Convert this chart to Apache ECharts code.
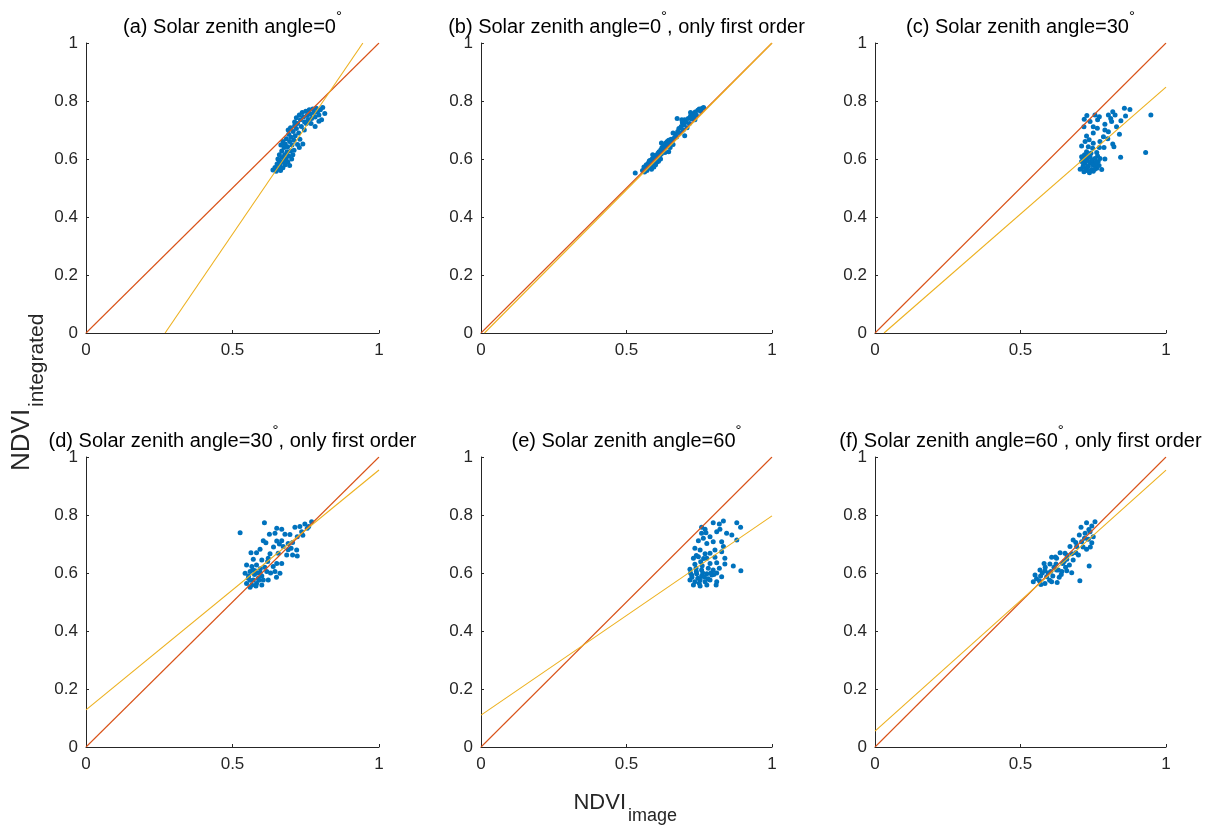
<!DOCTYPE html>
<html><head><meta charset="utf-8">
<script src="https://cdn.jsdelivr.net/npm/echarts@6/dist/echarts.min.js"></script>
<style>html,body{margin:0;padding:0;background:#fff}#c{width:1215px;height:825px}</style>
</head><body><div id="c"></div>
<script>
// ---------- data ----------
const panelTitleMain = [
  '(a) Solar zenith angle=0',
  '(b) Solar zenith angle=0',
  '(c) Solar zenith angle=30',
  '(d) Solar zenith angle=30',
  '(e) Solar zenith angle=60',
  '(f) Solar zenith angle=60'
];
const panelTitleTail = ['', ', only first order', '', ', only first order', '', ', only first order'];
const xTickLabels = ['0', '0.5', '1'];
const yTickLabels = ['0', '0.2', '0.4', '0.6', '0.8', '1'];
const xAxisName = ['NDVI', 'image'];
const yAxisName = ['NDVI', 'integrated'];

const pointsA = [[0.638,0.562],[0.645,0.571],[0.649,0.558],[0.652,0.583],[0.656,0.566],[0.659,0.595],[0.662,0.575],[0.664,0.560],[0.667,0.588],[0.670,0.605],[0.672,0.570],[0.675,0.592],[0.678,0.615],[0.680,0.580],[0.683,0.600],[0.686,0.625],[0.689,0.590],[0.692,0.610],[0.695,0.578],[0.698,0.628],[0.702,0.600],[0.706,0.615],[0.710,0.630],[0.660,0.615],[0.668,0.628],[0.676,0.640],[0.655,0.600],
[0.665,0.648],[0.672,0.660],[0.680,0.652],[0.684,0.670],[0.688,0.642],[0.692,0.685],[0.695,0.660],[0.700,0.675],[0.703,0.648],[0.707,0.695],[0.710,0.665],[0.714,0.680],[0.718,0.705],[0.722,0.650],[0.726,0.690],[0.730,0.668],[0.735,0.712],[0.740,0.652],[0.745,0.700],[0.698,0.708],[0.712,0.715],[0.690,0.700],[0.728,0.640],
[0.712,0.728],[0.718,0.742],[0.722,0.722],[0.728,0.752],[0.732,0.735],[0.738,0.760],[0.742,0.745],[0.746,0.728],[0.750,0.765],[0.755,0.750],[0.758,0.735],[0.762,0.770],[0.766,0.755],[0.770,0.740],[0.774,0.772],[0.778,0.760],[0.782,0.745],[0.786,0.775],[0.790,0.762],[0.795,0.752],[0.800,0.770],[0.804,0.735],[0.808,0.778],[0.815,0.757],[0.782,0.712],[0.768,0.722],[0.795,0.730],[0.752,0.722]];

const pointsB = [[0.530,0.552],[0.555,0.560],[0.560,0.572],[0.565,0.565],[0.568,0.580],[0.572,0.570],[0.575,0.585],[0.578,0.575],[0.580,0.595],[0.583,0.580],[0.585,0.570],[0.588,0.600],[0.590,0.588],[0.592,0.578],[0.595,0.605],[0.598,0.592],[0.600,0.612],[0.602,0.600],[0.605,0.590],[0.608,0.620],[0.610,0.606],[0.612,0.625],[0.615,0.612],[0.618,0.632],[0.620,0.618],[0.622,0.640],[0.625,0.628],[0.628,0.648],[0.630,0.635],[0.632,0.622],[0.635,0.655],[0.638,0.642],[0.640,0.660],[0.643,0.650],[0.645,0.665],[0.648,0.656],[0.650,0.640],[0.653,0.668],[0.656,0.660],[0.660,0.650],[0.664,0.672],[0.668,0.685],[0.672,0.676],[0.676,0.695],[0.680,0.705],[0.684,0.690],[0.688,0.712],[0.692,0.725],[0.695,0.700],[0.698,0.718],[0.700,0.735],[0.704,0.728],[0.708,0.708],[0.712,0.740],[0.716,0.722],[0.720,0.748],[0.724,0.738],[0.728,0.755],[0.732,0.745],[0.736,0.762],[0.740,0.752],[0.745,0.768],[0.750,0.772],[0.755,0.765],[0.760,0.775],[0.765,0.778],[0.570,0.560],[0.586,0.565],[0.594,0.572],[0.610,0.592],[0.600,0.580],[0.578,0.592],[0.562,0.555],[0.617,0.600],[0.660,0.668],[0.690,0.735],[0.674,0.740],[0.660,0.690],[0.700,0.680],[0.720,0.760],[0.620,0.655],[0.645,0.625],[0.590,0.615],[0.735,0.735]];

const pointsC = [[0.719,0.737],[0.756,0.752],[0.771,0.746],[0.802,0.752],[0.817,0.763],[0.825,0.752],[0.857,0.775],[0.876,0.771],[0.861,0.748],[0.845,0.732],[0.948,0.752],[0.718,0.711],[0.739,0.729],[0.750,0.711],[0.764,0.706],[0.790,0.720],[0.813,0.729],[0.830,0.711],[0.802,0.694],[0.840,0.685],[0.727,0.679],[0.736,0.666],[0.722,0.660],[0.750,0.654],[0.773,0.660],[0.785,0.677],[0.817,0.652],[0.821,0.642],[0.710,0.645],[0.733,0.642],[0.748,0.637],[0.771,0.640],[0.787,0.640],[0.727,0.625],[0.742,0.620],[0.762,0.622],[0.710,0.608],[0.725,0.602],[0.739,0.608],[0.756,0.602],[0.773,0.602],[0.790,0.600],[0.844,0.606],[0.930,0.622],[0.710,0.591],[0.722,0.585],[0.739,0.587],[0.753,0.585],[0.767,0.591],[0.714,0.571],[0.727,0.568],[0.745,0.564],[0.762,0.568],[0.779,0.564],[0.718,0.556],[0.737,0.553],[0.750,0.558],[0.716,0.578],[0.733,0.575],[0.748,0.580],[0.758,0.575],[0.730,0.595],[0.745,0.597],[0.720,0.615],[0.735,0.610],[0.765,0.610],[0.705,0.565],[0.725,0.560],[0.740,0.560],[0.755,0.565],[0.770,0.578],[0.715,0.600],[0.760,0.590],[0.750,0.690],[0.790,0.700],[0.810,0.740],[0.728,0.750],[0.765,0.735],[0.800,0.670]];

const pointsD = [[0.526,0.739],[0.609,0.773],[0.651,0.754],[0.668,0.751],[0.645,0.737],[0.626,0.734],[0.679,0.734],[0.713,0.758],[0.730,0.760],[0.747,0.769],[0.770,0.777],[0.755,0.754],[0.736,0.742],[0.721,0.725],[0.696,0.733],[0.605,0.711],[0.614,0.704],[0.651,0.710],[0.668,0.711],[0.690,0.702],[0.673,0.691],[0.700,0.685],[0.719,0.679],[0.594,0.682],[0.563,0.670],[0.582,0.670],[0.628,0.666],[0.656,0.668],[0.685,0.662],[0.705,0.662],[0.721,0.659],[0.571,0.647],[0.600,0.645],[0.622,0.651],[0.651,0.633],[0.668,0.633],[0.548,0.628],[0.566,0.622],[0.582,0.628],[0.639,0.622],[0.543,0.599],[0.560,0.605],[0.577,0.608],[0.594,0.601],[0.617,0.605],[0.645,0.605],[0.662,0.599],[0.554,0.582],[0.571,0.576],[0.588,0.582],[0.605,0.576],[0.622,0.576],[0.548,0.564],[0.566,0.559],[0.582,0.564],[0.600,0.559],[0.560,0.551],[0.555,0.590],[0.575,0.595],[0.590,0.575],[0.570,0.610],[0.585,0.600],[0.600,0.590],[0.610,0.620],[0.630,0.600],[0.650,0.585],[0.580,0.555],[0.560,0.575],[0.595,0.615],[0.620,0.640],[0.690,0.680],[0.705,0.705],[0.740,0.730],[0.760,0.760],[0.640,0.690],[0.660,0.700]];

const pointsE = [[0.798,0.773],[0.819,0.769],[0.833,0.779],[0.879,0.773],[0.892,0.758],[0.758,0.758],[0.770,0.751],[0.821,0.751],[0.758,0.737],[0.773,0.739],[0.810,0.742],[0.844,0.737],[0.862,0.731],[0.764,0.720],[0.787,0.725],[0.798,0.708],[0.827,0.708],[0.879,0.714],[0.747,0.711],[0.776,0.702],[0.833,0.691],[0.735,0.685],[0.753,0.679],[0.804,0.679],[0.827,0.673],[0.770,0.666],[0.787,0.668],[0.730,0.651],[0.747,0.656],[0.776,0.651],[0.804,0.654],[0.838,0.651],[0.755,0.639],[0.787,0.633],[0.810,0.635],[0.838,0.631],[0.867,0.624],[0.893,0.608],[0.718,0.613],[0.739,0.616],[0.758,0.610],[0.781,0.616],[0.798,0.610],[0.819,0.616],[0.724,0.593],[0.741,0.597],[0.758,0.590],[0.776,0.597],[0.793,0.593],[0.827,0.587],[0.718,0.576],[0.735,0.570],[0.753,0.576],[0.770,0.570],[0.787,0.576],[0.810,0.570],[0.730,0.559],[0.753,0.555],[0.776,0.559],[0.808,0.559],[0.725,0.585],[0.745,0.582],[0.762,0.600],[0.740,0.605],[0.768,0.585],[0.750,0.565],[0.780,0.580],[0.790,0.600],[0.735,0.630],[0.760,0.625],[0.720,0.600],[0.765,0.650],[0.800,0.595],[0.810,0.600],[0.740,0.660]];

const pointsF = [[0.756,0.777],[0.745,0.762],[0.727,0.773],[0.708,0.758],[0.739,0.742],[0.722,0.737],[0.702,0.731],[0.750,0.725],[0.733,0.716],[0.681,0.714],[0.710,0.708],[0.745,0.704],[0.670,0.691],[0.693,0.691],[0.727,0.682],[0.636,0.670],[0.653,0.668],[0.676,0.666],[0.699,0.662],[0.607,0.654],[0.624,0.651],[0.659,0.647],[0.681,0.645],[0.581,0.633],[0.601,0.631],[0.622,0.631],[0.645,0.633],[0.668,0.628],[0.736,0.624],[0.567,0.610],[0.584,0.608],[0.604,0.605],[0.624,0.610],[0.642,0.605],[0.659,0.608],[0.676,0.601],[0.550,0.593],[0.569,0.590],[0.590,0.587],[0.611,0.590],[0.633,0.585],[0.544,0.570],[0.565,0.573],[0.584,0.564],[0.607,0.570],[0.626,0.567],[0.704,0.573],[0.555,0.580],[0.575,0.600],[0.595,0.600],[0.615,0.620],[0.630,0.610],[0.650,0.640],[0.660,0.660],[0.690,0.670],[0.715,0.690],[0.720,0.720],[0.735,0.750],[0.570,0.560],[0.600,0.575],[0.640,0.595],[0.585,0.620],[0.620,0.655],[0.690,0.705],[0.740,0.690],[0.655,0.620]];

const identityLine = [[0, 0], [1, 1]];
const fitA = [[0.270, 0], [0.945, 1]];
const fitB = [[0.012, 0], [1, 1]];
const fitC = [[0.031, 0], [1, 0.848]];
const fitD = [[0, 0.128], [1, 0.955]];
const fitE = [[0, 0.110], [1, 0.797]];
const fitF = [[0, 0.055], [1, 0.955]];

const panelPoints = [pointsA, pointsB, pointsC, pointsD, pointsE, pointsF];
const panelFits = [fitA, fitB, fitC, fitD, fitE, fitF];

// ---------- layout & style ----------
const FONT = '"Liberation Sans", Arial, Helvetica, sans-serif';
const INK = '#262626';
const colLeft = [86, 481, 875];
const colWidth = [293, 291, 291];
const rowTop = [43, 457];
const plotHeight = 290;
const titleY = [27, 441];

const grids = [], xAxes = [], yAxes = [], series = [], graphics = [];
for (let i = 0; i < 6; i++) {
  const r = Math.floor(i / 3), c = i % 3;
  grids.push({left: colLeft[c], top: rowTop[r], width: colWidth[c], height: plotHeight, containLabel: false});
  xAxes.push({
    gridIndex: i, type: 'value', min: 0, max: 1, interval: 0.5,
    axisLine: {show: true, onZero: false, lineStyle: {color: INK, width: 1}},
    axisTick: {show: true, inside: true, length: 3, lineStyle: {color: INK, width: 1}},
    axisLabel: {color: INK, fontSize: 17, fontFamily: FONT, margin: 9,
      formatter: v => xTickLabels[Math.round(v / 0.5)]},
    splitLine: {show: false}
  });
  yAxes.push({
    gridIndex: i, type: 'value', min: 0, max: 1, interval: 0.2,
    axisLine: {show: true, onZero: false, lineStyle: {color: INK, width: 1}},
    axisTick: {show: true, inside: true, length: 3, lineStyle: {color: INK, width: 1}},
    axisLabel: {color: INK, fontSize: 17, fontFamily: FONT, margin: 8,
      formatter: v => yTickLabels[Math.round(v / 0.2)]},
    splitLine: {show: false}
  });
  series.push({
    type: 'scatter', xAxisIndex: i, yAxisIndex: i, data: panelPoints[i],
    symbol: 'circle', symbolSize: 5, itemStyle: {color: '#0072BD', opacity: 1}, z: 2, silent: true
  });
  series.push({
    type: 'line', xAxisIndex: i, yAxisIndex: i, data: identityLine, showSymbol: false, symbol: 'none',
    lineStyle: {color: '#D95319', width: 1.1}, z: 3, silent: true
  });
  series.push({
    type: 'line', xAxisIndex: i, yAxisIndex: i, data: panelFits[i], showSymbol: false, symbol: 'none',
    lineStyle: {color: '#EDB120', width: 1.1}, z: 4, silent: true
  });
  graphics.push({
    type: 'text', x: colLeft[c] + colWidth[c] / 2, y: titleY[r],
    style: {
      text: '{t|' + panelTitleMain[i] + '}{s|°}' + (panelTitleTail[i] ? '{t|' + panelTitleTail[i] + '}' : ''),
      align: 'center', verticalAlign: 'middle',
      rich: {
        t: {fontSize: 20, fontFamily: FONT, fill: '#000', lineHeight: 36},
        s: {fontSize: 15, fontFamily: FONT, fill: '#000', lineHeight: 18, verticalAlign: 'top'}
      }
    }
  });
}
// axis names
graphics.push({type: 'text', x: 626, y: 803, style: {text: xAxisName[0], font: '22px ' + FONT, fill: INK, align: 'right', verticalAlign: 'middle'}});
graphics.push({type: 'text', x: 628, y: 816, style: {text: xAxisName[1], font: '18px ' + FONT, fill: INK, align: 'left', verticalAlign: 'middle'}});
graphics.push({type: 'text', x: 22, y: 471, rotation: Math.PI / 2, style: {text: yAxisName[0], font: '26px ' + FONT, fill: INK, align: 'left', verticalAlign: 'middle'}});
graphics.push({type: 'text', x: 37, y: 407, rotation: Math.PI / 2, style: {text: yAxisName[1], font: '21px ' + FONT, fill: INK, align: 'left', verticalAlign: 'middle'}});

const chart = echarts.init(document.getElementById('c'), null, {renderer: 'canvas'});
chart.setOption({
  animation: false,
  backgroundColor: '#fff',
  grid: grids, xAxis: xAxes, yAxis: yAxes, series: series, graphic: graphics
});
</script></body></html>
